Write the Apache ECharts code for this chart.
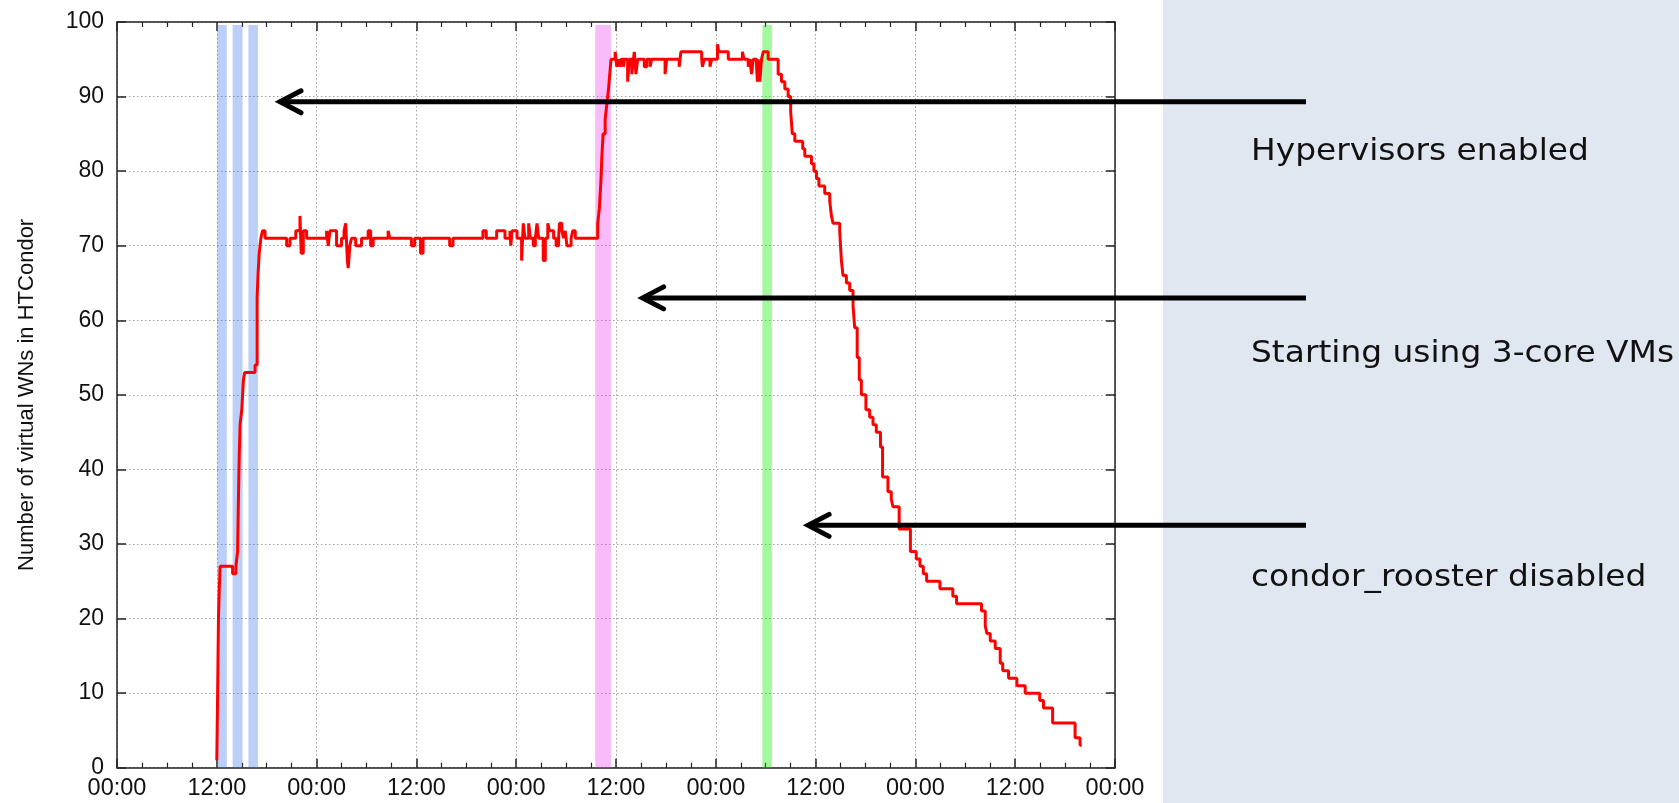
<!DOCTYPE html>
<html><head><meta charset="utf-8">
<script src="https://cdn.jsdelivr.net/npm/echarts@6/dist/echarts.min.js"></script>
<style>html,body{margin:0;padding:0;background:#fff}#c{width:1679px;height:803px}</style>
</head><body><div id="c"></div><script>
// ---- data ----
const xTickLabels = ['00:00','12:00','00:00','12:00','00:00','12:00','00:00','12:00','00:00','12:00','00:00'];
const yTickLabels = ['0','10','20','30','40','50','60','70','80','90','100'];
const yAxisTitle = 'Number of virtual WNs in HTCondor';
// hours since start, number of virtual WNs (step changes)
const timeHours = [12.0,12.1,12.2,12.3,12.4,13.9,14.3,14.5,14.6,14.7,14.8,15.0,15.2,15.35,16.6,16.85,16.95,17.1,17.3,17.5,17.8,20.4,20.8,21.5,22.0,22.15,22.4,22.8,25.2,25.4,25.6,26.4,27.0,27.3,27.5,27.7,27.8,28.0,28.2,28.7,29.4,30.2,30.5,30.8,32.6,32.8,35.4,35.8,36.5,36.8,40.0,40.4,44.0,44.4,45.65,46.65,47.25,47.35,47.5,48.1,48.65,48.85,49.05,49.5,49.7,50.05,50.3,50.5,50.7,51.25,51.5,51.8,52.0,52.5,52.8,53.1,53.2,53.5,53.7,53.9,54.1,54.6,54.8,55.1,57.8,58.0,58.2,58.3,58.45,58.7,58.9,59.1,59.25,59.4,59.9,60.1,60.3,60.5,60.6,60.9,61.0,61.4,61.6,61.9,62.1,62.2,62.4,62.6,63.4,63.7,64.1,64.3,65.9,66.1,67.6,67.8,70.3,70.4,70.6,71.3,71.5,72.2,72.35,73.5,75.2,75.4,75.9,76.1,76.3,76.5,76.9,77.0,77.1,77.3,77.5,77.7,78.3,79.5,79.9,80.3,80.7,81.0,81.2,81.5,82.45,82.7,83.5,83.8,84.1,84.4,85.1,85.7,85.9,86.1,86.9,87.1,87.3,87.7,88.1,88.5,88.7,89.0,89.25,89.5,90.05,90.5,90.9,91.3,91.8,92.05,92.7,93.1,93.3,94.05,95.4,96.1,96.55,96.95,97.35,98.95,100.5,100.95,103.95,104.4,104.6,105.0,105.6,106.2,106.5,107.2,108.2,109.2,110.95,111.4,112.5,115.2,115.8,116.0];
const vmCount = [1,10,20,24,27,26,27,29,36,42,46,48,52,53,54,63,66,69,71,72,71,70,71,72,74,69,72,71,72,70,72,70,71,72,73,68,67,70,71,70,71,72,70,71,72,71,70,71,69,71,70,71,72,71,72,71,72,70,72,71,68,73,71,73,71,70,71,73,71,68,71,73,72,71,70,71,73,72,71,72,70,71,72,71,73,75,79,82,85,87,89,91,93,95,96,94,95,94,95,94,95,92,95,93,95,96,93,95,94,95,94,95,93,95,94,96,95,94,95,94,95,97,96,95,96,95,94,95,93,95,94,92,95,92,95,96,95,93,92,91,90,88,85,84,83,82,81,80,79,78,77,76,74,73,72,68,66,65,64,62,59,55,52,50,48,47,46,45,43,39,37,36,35,32,29,28,27,26,25,24,23,22,21,19,18,17,16,14,13,12,11,10,9,8,6,4,3,3];
// highlighted periods: start hour, end hour, kind
const bandStart = [12.05, 13.9, 15.8, 57.5, 77.6];
const bandEnd   = [13.2, 15.1, 16.95, 59.4, 78.75];
const bandKind  = ['blue','blue','blue','pink','green'];
// annotations: arrow tip (hour, value) and label
const noteTipHour  = [19.6, 63.2, 83.1];
const noteTipValue = [89.3, 63.0, 32.5];
const noteText = ['Hypervisors enabled','Starting using 3-core VMs','condor_rooster disabled'];

// ---- styles ----
const bandColors = {blue:'rgba(63,117,234,0.35)', pink:'rgba(240,60,240,0.35)', green:'rgba(10,239,0,0.38)'};
const FONT = 'Liberation Sans, Helvetica, Arial, sans-serif';
const axisCol = '#222';
const gridLine = {show:true, lineStyle:{color:'#a0a0a0', width:1, type:[1.5,2.5]}};

const chart = echarts.init(document.getElementById('c'), null, {renderer:'canvas'});
const xCommon = {type:'value', min:0, max:120, interval:12,
  axisLine:{show:true, onZero:false, lineStyle:{color:axisCol, width:1.5}},
  axisTick:{show:true, inside:true, length:9, lineStyle:{color:axisCol, width:1.5}},
  minorTick:{show:true, splitNumber:4, length:5, lineStyle:{color:axisCol, width:1.2}}};
const yCommon = {type:'value', min:0, max:100, interval:10,
  axisLine:{show:true, onZero:false, lineStyle:{color:axisCol, width:1.5}},
  axisTick:{show:true, inside:true, length:9, lineStyle:{color:axisCol, width:1.5}}};

chart.setOption({
  animation:false,
  backgroundColor:'#ffffff',
  grid:{left:117, top:22, right:564, bottom:35.3, containLabel:false, outerBoundsMode:'none'},
  xAxis:[
    Object.assign({}, xCommon, {position:'bottom',
      axisLabel:{formatter:(v)=>xTickLabels[Math.round(v/12)], fontFamily:FONT, fontSize:23.5, color:'#111', margin:9},
      splitLine:gridLine}),
    Object.assign({}, xCommon, {position:'top', axisLabel:{show:false}, splitLine:{show:false}})
  ],
  yAxis:[
    Object.assign({}, yCommon, {position:'left',
      name:yAxisTitle, nameLocation:'middle', nameGap:79,
      nameTextStyle:{fontFamily:FONT, fontSize:22, color:'#111'},
      axisLabel:{formatter:(v)=>yTickLabels[Math.round(v/10)], fontFamily:FONT, fontSize:23, color:'#111', margin:13},
      splitLine:gridLine}),
    Object.assign({}, yCommon, {position:'right', axisLabel:{show:false}, splitLine:{show:false}})
  ],
  series:[
    {type:'line', step:'end', showSymbol:false, z:2,
     data: timeHours.map((t,i)=>[t, vmCount[i]]),
     lineStyle:{color:'#ff0000', width:3}},
    {type:'line', data:[], z:4, silent:true,
     markArea:{silent:true,
       data: bandStart.map((s,i)=>[{xAxis:s, yAxis:0, itemStyle:{color:bandColors[bandKind[i]]}}, {xAxis:bandEnd[i], yAxis:99.6}])}}
  ]
});

// annotations
const panelX = 1163, arrowEndX = 1306;
const textX = 1251, textY = [152, 354, 578];
const els = [{type:'rect', z:-10, shape:{x:panelX, y:0, width:1679-panelX, height:803}, style:{fill:'#e1e7f1'}}];
noteText.forEach((t,i)=>{
  const p = chart.convertToPixel({gridIndex:0}, [noteTipHour[i], noteTipValue[i]]);
  els.push({type:'line', z:50, shape:{x1:p[0]+3, y1:p[1], x2:arrowEndX, y2:p[1]}, style:{stroke:'#000', lineWidth:5}});
  els.push({type:'polyline', z:50, shape:{points:[[p[0]+21,p[1]-11],[p[0],p[1]],[p[0]+21,p[1]+11]]}, style:{stroke:'#000', fill:null, lineWidth:5, lineCap:'round', lineJoin:'miter'}});
  els.push({type:'text', z:50, x:textX, y:textY[i], scaleX:1.06, style:{text:t, font:'31px "DejaVu Sans", sans-serif', fill:'#111', verticalAlign:'middle', align:'left'}});
});
chart.setOption({graphic:{elements:els}});
</script></body></html>
